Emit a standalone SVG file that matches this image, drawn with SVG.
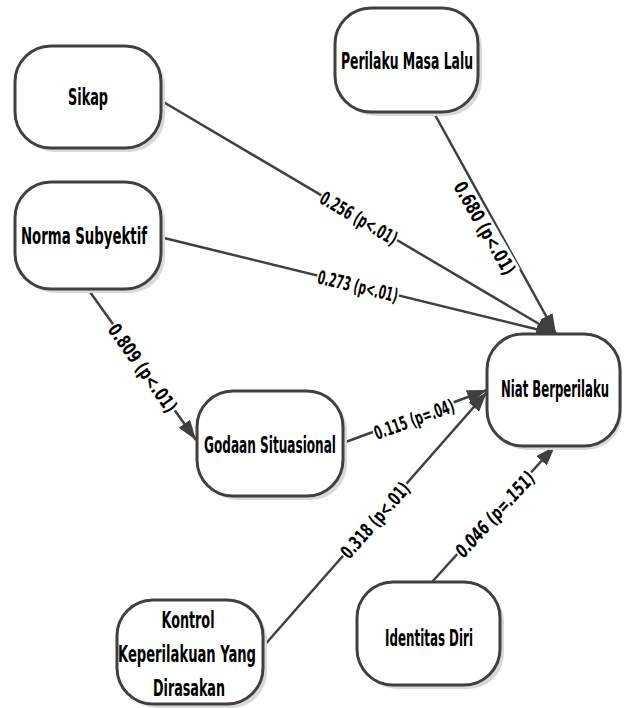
<svg xmlns="http://www.w3.org/2000/svg" width="624" height="708" viewBox="0 0 624 708">
<style>
.box{fill:#ffffff;stroke:#404040;stroke-width:3}
.sh{fill:#d9d9d9}
.nt{font-family:"DejaVu Sans Condensed","DejaVu Sans",sans-serif;font-weight:bold;font-size:23px;fill:#000;text-anchor:middle}
.ln{stroke:#404040;stroke-width:2.5;fill:none;marker-end:url(#ah)}
.lb{font-family:"DejaVu Sans Condensed","DejaVu Sans",sans-serif;font-weight:bold;font-size:19px;fill:#000;text-anchor:middle;dominant-baseline:central}
.bg{fill:#ffffff}
</style>
<defs>
<marker id="ah" markerUnits="userSpaceOnUse" markerWidth="22" markerHeight="16" refX="20" refY="7" orient="auto">
<path d="M0,0 L20,7 L0,14 z" fill="#404040"/>
</marker>
</defs>
<rect width="624" height="708" fill="#ffffff"/>
<g id="connectors">
<line class="ln" x1="160" y1="100" x2="556" y2="334"/>
<line class="ln" x1="160" y1="237" x2="556" y2="334"/>
<line class="ln" x1="434" y1="113" x2="556" y2="334"/>
<line class="ln" x1="90" y1="292" x2="196" y2="440"/>
<line class="ln" x1="343" y1="443" x2="487" y2="390"/>
<line class="ln" x1="262" y1="648" x2="487" y2="392"/>
<line class="ln" x1="432" y1="582" x2="555" y2="446"/>
<g transform="translate(359,218) rotate(30.4)"><rect class="bg" x="-44" y="-10" width="88" height="20"/><text class="lb" x="0" y="0" textLength="86" lengthAdjust="spacingAndGlyphs">0.256 (p&lt;.01)</text></g>
<g transform="translate(358,286) rotate(13.6)"><rect class="bg" x="-42" y="-10" width="84" height="20"/><text class="lb" x="0" y="0" textLength="82" lengthAdjust="spacingAndGlyphs">0.273 (p&lt;.01)</text></g>
<g transform="translate(485,228) rotate(60)"><rect class="bg" x="-53" y="-10" width="106" height="20"/><text class="lb" x="0" y="0" textLength="104" lengthAdjust="spacingAndGlyphs">0.680 (p&lt;.01)</text></g>
<g transform="translate(143,368) rotate(54.4)"><rect class="bg" x="-53" y="-10" width="106" height="20"/><text class="lb" x="0" y="0" textLength="104" lengthAdjust="spacingAndGlyphs">0.809 (p&lt;.01)</text></g>
<g transform="translate(414,419) rotate(-20)"><rect class="bg" x="-43" y="-10" width="86" height="20"/><text class="lb" x="0" y="0" textLength="84" lengthAdjust="spacingAndGlyphs">0.115 (p=.04)</text></g>
<g transform="translate(375,520) rotate(-48.7)"><rect class="bg" x="-48" y="-10" width="96" height="20"/><text class="lb" x="0" y="0" textLength="94" lengthAdjust="spacingAndGlyphs">0.318 (p&lt;.01)</text></g>
<g transform="translate(495,514) rotate(-47.7)"><rect class="bg" x="-55" y="-10" width="110" height="20"/><text class="lb" x="0" y="0" textLength="108" lengthAdjust="spacingAndGlyphs" font-style="italic">0.046 (p=.151)</text></g>
</g>
<g id="sikap">
<rect class="sh" x="19" y="50" width="146" height="102" rx="36"/>
<rect class="box" x="15" y="46" width="146" height="102" rx="36"/>
<text class="nt" x="88" y="105" textLength="40" lengthAdjust="spacingAndGlyphs">Sikap</text>
</g>
<g id="perilaku">
<rect class="sh" x="339" y="12" width="143" height="104" rx="36"/>
<rect class="box" x="335" y="8" width="143" height="104" rx="36"/>
<text class="nt" x="407" y="69" textLength="132" lengthAdjust="spacingAndGlyphs">Perilaku Masa Lalu</text>
</g>
<g id="norma">
<rect class="sh" x="19" y="186" width="146" height="107" rx="36"/>
<rect class="box" x="15" y="182" width="146" height="107" rx="36"/>
<text class="nt" x="84" y="244" textLength="126" lengthAdjust="spacingAndGlyphs">Norma Subyektif</text>
</g>
<g id="godaan">
<rect class="sh" x="201" y="395" width="146" height="105" rx="36"/>
<rect class="box" x="197" y="391" width="146" height="105" rx="36"/>
<text class="nt" x="270" y="453" textLength="132" lengthAdjust="spacingAndGlyphs">Godaan Situasional</text>
</g>
<g id="niat">
<rect class="sh" x="491" y="338" width="131" height="112" rx="36"/>
<rect class="box" x="487" y="334" width="133" height="112" rx="36"/>
<text class="nt" style="font-size:14px" transform="translate(555,397) scale(1,1.64)" x="0" y="0" textLength="108" lengthAdjust="spacingAndGlyphs">Niat Berperilaku</text>
</g>
<g id="kontrol">
<rect class="sh" x="121" y="604" width="146" height="104" rx="36"/>
<rect class="box" x="117" y="600" width="146" height="104" rx="36"/>
<text class="nt" x="188" y="628" textLength="53" lengthAdjust="spacingAndGlyphs">Kontrol</text>
<text class="nt" x="187" y="662" textLength="138" lengthAdjust="spacingAndGlyphs">Keperilakuan Yang</text>
<text class="nt" x="189" y="696" textLength="72" lengthAdjust="spacingAndGlyphs">Dirasakan</text>
</g>
<g id="identitas">
<rect class="sh" x="361" y="586" width="143" height="103" rx="36"/>
<rect class="box" x="357" y="582" width="143" height="103" rx="36"/>
<text class="nt" x="429" y="646" textLength="88" lengthAdjust="spacingAndGlyphs">Identitas Diri</text>
</g>
</svg>
